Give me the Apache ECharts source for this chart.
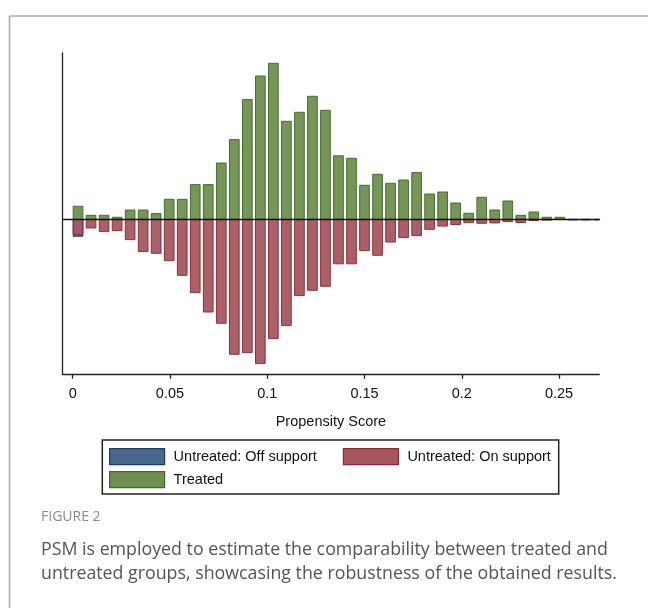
<!DOCTYPE html>
<html>
<head>
<meta charset="utf-8">
<script src="https://cdn.jsdelivr.net/npm/echarts@6/dist/echarts.min.js"></script>
<style>
html,body{margin:0;padding:0;background:#fff;}
#chart{width:648px;height:608px;}
</style>
</head>
<body>
<div id="chart"></div>
<script>
// ---- data (histogram of propensity scores, mirrored) ----
const BIN_WIDTH = 0.006694;           // width of one histogram bin on the score axis
const treated = [2.6,0.8,0.8,0.4,1.86,1.86,1.14,4.0,4.0,6.94,6.94,11.26,15.94,23.94,28.66,31.2,19.6,21.4,24.6,21.8,12.7,12.2,6.8,9.0,7.2,7.86,9.34,5.06,5.46,3.26,1.2,4.4,1.86,3.66,0.8,1.46,0.4,0.4];
const untreatedOn = [-3.0,-1.74,-2.46,-2.26,-4.06,-6.46,-6.8,-8.26,-11.2,-14.66,-18.54,-20.8,-27.0,-26.66,-28.86,-23.86,-21.26,-15.26,-14.2,-13.4,-8.9,-8.9,-6.26,-7.2,-4.54,-3.66,-3.26,-2.0,-1.36,-1.04,-0.66,-0.8,-0.72,-0.46,-0.64,-0.24,-0.16,0];
const untreatedOffBins = [0,38,39,40];
const untreatedOffVals = [-3.4,-0.12,-0.12,-0.12];
const tickValues = [0,0.05,0.1,0.15,0.2,0.25];
const tickLabels = ['0','0.05','0.1','0.15','0.2','0.25'];
const seriesNames = ['Untreated: Off support','Untreated: On support','Treated'];
const xTitle = 'Propensity Score';
const figLabel = 'FIGURE 2';
const captionLines = [
  'PSM is employed to estimate the comparability between treated and',
  'untreated groups, showcasing the robustness of the obtained results.'
];

// ---- build ----
const FILL = 0.82; // fraction of a bin covered by the drawn bar
const colors = {
  off: {fill:'#48688f', stroke:'#1c3a62'},
  on:  {fill:'#a7565f', stroke:'#8c2836'},
  tr:  {fill:'#6f8f50', stroke:'#3f6a25'}
};
function toData(vals, bins){
  return vals.map((v,i)=>[ (bins ? bins[i] : i) * BIN_WIDTH, v ]);
}
function makeRender(c){
  return function(params, api){
    const x0 = api.value(0), v = api.value(1);
    const p0 = api.coord([x0, 0]);
    const p1 = api.coord([x0 + BIN_WIDTH*FILL, v]);
    const h = Math.abs(p1[1]-p0[1]);
    return {
      type:'rect',
      shape:{x:p0[0]+0.5, y:Math.min(p0[1],p1[1]), width:p1[0]-p0[0]-1, height:h},
      style:{fill:c.fill, stroke:c.stroke, lineWidth:1, opacity:0.95}
    };
  };
}
function mkSeries(name, c, data, z){
  return {
    name:name, type:'custom', renderItem:makeRender(c), data:data, z:z, clip:true,
    itemStyle:{color:c.fill, borderColor:c.stroke, borderWidth:1},
    encode:{x:0,y:1}, silent:true
  };
}
function legendItem(i, c){
  return {name:seriesNames[i], itemStyle:{color:c.fill, borderColor:c.stroke, borderWidth:1.2}};
}
const FONT = "'Liberation Sans', Arial, sans-serif";
const legendText = {fontSize:14.5, color:'#111', fontFamily:FONT, padding:[5,0,0,4]};
const chart = echarts.init(document.getElementById('chart'), null, {renderer:'canvas'});
chart.setOption({
  animation:false,
  backgroundColor:'#fff',
  grid:{left:62.5, right:48.7, top:53, bottom:233.7, containLabel:false},
  xAxis:{
    type:'value', min:-0.00524, max:0.2707,
    splitLine:{show:false},
    axisLine:{show:true, onZero:false, lineStyle:{color:'#222', width:1.3}},
    axisTick:{show:true, customValues:tickValues, length:4.5, lineStyle:{color:'#222', width:1.3}},
    axisLabel:{show:true, customValues:tickValues, margin:12, fontSize:14.5, color:'#111', fontFamily:FONT,
      formatter:function(v){ const i = tickValues.indexOf(v); return i>=0 ? tickLabels[i] : ''; }},
    name:xTitle, nameLocation:'middle', nameGap:40,
    nameTextStyle:{fontSize:14.5, color:'#111', fontFamily:FONT}
  },
  yAxis:{
    type:'value', min:-31, max:33.26,
    splitLine:{show:false},
    axisLine:{show:true, onZero:false, lineStyle:{color:'#222', width:1.3}},
    axisTick:{show:false}, axisLabel:{show:false}
  },
  legend:[
    {
      left:109, top:448, padding:0, orient:'horizontal',
      itemWidth:55, itemHeight:16, itemGap:26, icon:'rect', selectedMode:false,
      textStyle:legendText,
      data:[legendItem(0, colors.off), legendItem(1, colors.on)]
    },
    {
      left:109, top:471, padding:0, orient:'horizontal',
      itemWidth:55, itemHeight:16, itemGap:26, icon:'rect', selectedMode:false,
      textStyle:legendText,
      data:[legendItem(2, colors.tr)]
    }
  ],
  series:[
    mkSeries(seriesNames[0], colors.off, toData(untreatedOffVals, untreatedOffBins), 2),
    mkSeries(seriesNames[1], colors.on, toData(untreatedOn), 3),
    mkSeries(seriesNames[2], colors.tr, toData(treated), 4),
    {
      type:'line', data:[], z:10, silent:true,
      markLine:{silent:true, symbol:'none', label:{show:false}, animation:false,
        lineStyle:{color:'#111', width:1.3, type:'solid'}, data:[{yAxis:0}]}
    }
  ],
  graphic:[
    {type:'line', shape:{x1:9.5, y1:16, x2:9.5, y2:608}, style:{stroke:'#a9a9a9', lineWidth:1.5}, silent:true},
    {type:'line', shape:{x1:9.5, y1:16, x2:648, y2:16}, style:{stroke:'#a9a9a9', lineWidth:1.5}, silent:true},
    {type:'rect', shape:{x:102.3, y:440, width:456.4, height:54}, style:{fill:'none', stroke:'#222', lineWidth:1.5}, silent:true},
    {type:'text', left:41, top:510, style:{text:figLabel, fontSize:14, fill:'#8a8a8a', fontFamily:"'Open Sans', sans-serif"}, silent:true},
    {type:'text', left:41, top:541, style:{text:captionLines[0], fontSize:17.8, fill:'#555', fontFamily:"'Open Sans', sans-serif"}, silent:true},
    {type:'text', left:41, top:565, style:{text:captionLines[1], fontSize:17.8, fill:'#555', fontFamily:"'Open Sans', sans-serif"}, silent:true}
  ]
});
</script>
</body>
</html>
